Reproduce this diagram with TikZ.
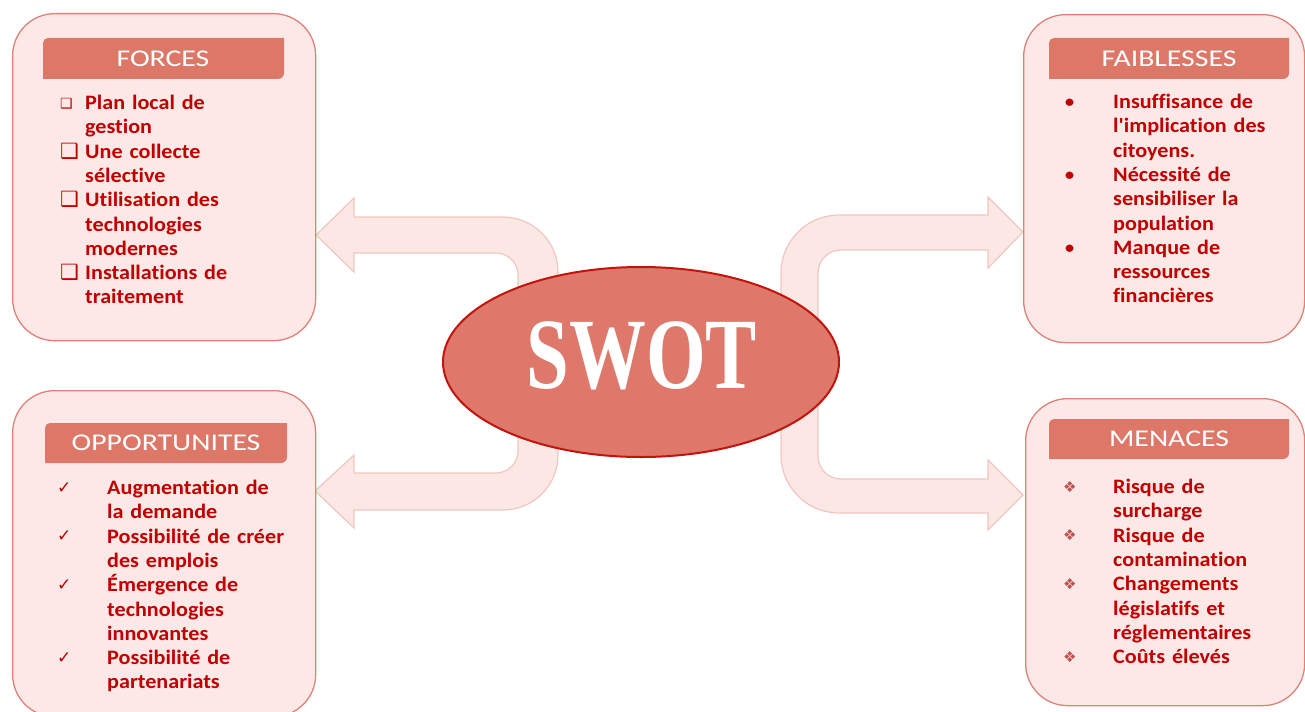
\documentclass[tikz,border=0pt]{standalone}
\usepackage{fontspec}
\usetikzlibrary{shapes.geometric}
\setmainfont{Carlito}
\newfontfamily\bodyfont[FakeStretch=1.08,Ligatures=NoCommon]{Carlito}
\newfontfamily\headfont[FakeStretch=1.24]{Carlito}
\newfontfamily\swotfont[FakeStretch=0.76]{Liberation Serif}
\newfontfamily\symfont{DejaVu Sans}
\definecolor{boxfill}{HTML}{FCE9E7}
\definecolor{boxline}{HTML}{DE8278}
\definecolor{headfill}{HTML}{DD7869}
\definecolor{arrfill}{HTML}{FBE7E4}
\definecolor{arrline}{HTML}{F0C6C0}
\definecolor{ellfill}{HTML}{DE786A}
\definecolor{ellline}{HTML}{C0140C}
\definecolor{txt}{HTML}{C00000}
\definecolor{diam}{HTML}{C0504D}
\newcommand\bitem[3]{\noindent\hangindent=#1\hangafter=1\makebox[#1][l]{#2}#3\par}
\newcommand\sqbs{{\symfont\fontsize{14bp}{14bp}\selectfont\raisebox{1bp}{❑}}}
\newcommand\sqb{{\symfont\fontsize{21bp}{21bp}\selectfont ❑}}
\newcommand\dotb{{\bodyfont\mdseries •}}
\newcommand\chk{{\symfont\fontsize{17bp}{17bp}\selectfont\raisebox{1.5bp}{✓}}}
\newcommand\dmd{{\color{diam}\symfont\fontsize{15bp}{15bp}\selectfont\raisebox{1.5bp}{❖}}}
\newcommand\hdrshape[4]{\fill[headfill] (#1,-#2-5) arc[start angle=180,end angle=90,radius=5bp] -- (#3,-#2) -- (#3,-#4+6) arc[start angle=0,end angle=-90,radius=6bp] -- (#1,-#4) -- cycle;}
\tikzset{
  swotbox/.style={draw=boxline, fill=boxfill, line width=1.3bp, rounded corners=42bp, inner sep=0, anchor=north west},
  hdrtext/.style={text=white, inner sep=0, font=\headfont\fontsize{24bp}{24bp}\selectfont},
  listtext/.style={inner sep=0, anchor=base west, text=txt, text width=240bp, font=\bodyfont\bfseries\fontsize{20.5bp}{24.3bp}\selectfont},
  arrowshape/.style={fill=arrfill, draw=arrline, line width=1.2bp, line join=miter},
}
\begin{document}
\begin{tikzpicture}[x=1bp,y=1bp]
\useasboundingbox (0,0) rectangle (1305,-711);
% block arrows
\draw[arrowshape] (316,-235) -- (354,-198) -- (354,-217) -- (503,-217) arc[start angle=90,end angle=0,radius=55bp] -- (558,-455) arc[start angle=0,end angle=-90,radius=55bp] -- (354,-510) -- (354,-528) -- (315,-491) -- (354,-455) -- (354,-473) -- (496,-473) arc[start angle=-90,end angle=0,radius=22bp] -- (518,-275) arc[start angle=0,end angle=90,radius=22bp] -- (354,-253) -- (354,-272) -- cycle;
\draw[arrowshape] (1023,-232) -- (988,-197) -- (988,-215) -- (839,-215) arc[start angle=90,end angle=180,radius=58bp] -- (781,-455) arc[start angle=180,end angle=270,radius=58bp] -- (988,-513) -- (988,-530) -- (1023,-495) -- (988,-460) -- (988,-479) -- (841,-479) arc[start angle=270,end angle=180,radius=23bp] -- (818,-273) arc[start angle=180,end angle=90,radius=23bp] -- (988,-250) -- (988,-268) -- cycle;
% centre
\node[ellipse, draw=ellline, fill=ellfill, line width=2bp, minimum width=396bp, minimum height=190bp, inner sep=0] (ell) at (641,-362) {};
\node[text=white, inner sep=0, font=\swotfont\bfseries\fontsize{101bp}{101bp}\selectfont] (swot) at (642,-356) {SWOT};
% boxes
\node[swotbox, minimum width=303bp, minimum height=327bp] (forces) at (12,-13) {};
\node[swotbox, minimum width=281bp, minimum height=328bp] (faib) at (1023,-14) {};
\node[swotbox, minimum width=303bp, minimum height=326bp] (opp) at (12,-390) {};
\node[swotbox, minimum width=279bp, minimum height=307bp] (men) at (1025,-398) {};
% headers
\hdrshape{43}{38}{284}{79}
\hdrshape{1049}{38}{1289}{79}
\hdrshape{45}{423}{287}{463}
\hdrshape{1049}{419}{1289}{459}
\node[hdrtext] (forcesH) at (163,-59) {FORCES};
\node[hdrtext] (faibH) at (1169,-59) {FAIBLESSES};
\node[hdrtext] (oppH) at (166,-443) {OPPORTUNITES};
\node[hdrtext] (menH) at (1169,-439) {MENACES};
% lists
\node[listtext] (forcesL) at (60,-109.5) {%
\bitem{25bp}{\sqbs}{Plan local de\newline gestion}%
\bitem{25bp}{\sqb}{Une collecte\newline sélective}%
\bitem{25bp}{\sqb}{Utilisation des\newline technologies\newline modernes}%
\bitem{25bp}{\sqb}{Installations de\newline traitement}};
\node[listtext] (faibL) at (1064,-108.5) {%
\bitem{49bp}{\dotb}{Insuffisance de\newline l'implication des\newline citoyens.}%
\bitem{49bp}{\dotb}{Nécessité de\newline sensibiliser la\newline population}%
\bitem{49bp}{\dotb}{Manque de\newline ressources\newline financières}};
\node[listtext] (oppL) at (57,-494.5) {%
\bitem{50bp}{\chk}{Augmentation de\newline la demande}%
\bitem{50bp}{\chk}{Possibilité de créer\newline des emplois}%
\bitem{50bp}{\chk}{Émergence de\newline technologies\newline innovantes}%
\bitem{50bp}{\chk}{Possibilité de\newline partenariats}};
\node[listtext] (menL) at (1063,-493.5) {%
\bitem{50bp}{\dmd}{Risque de\newline surcharge}%
\bitem{50bp}{\dmd}{Risque de\newline contamination}%
\bitem{50bp}{\dmd}{Changements\newline législatifs et\newline réglementaires}%
\bitem{50bp}{\dmd}{Coûts élevés}};
\end{tikzpicture}
\end{document}
